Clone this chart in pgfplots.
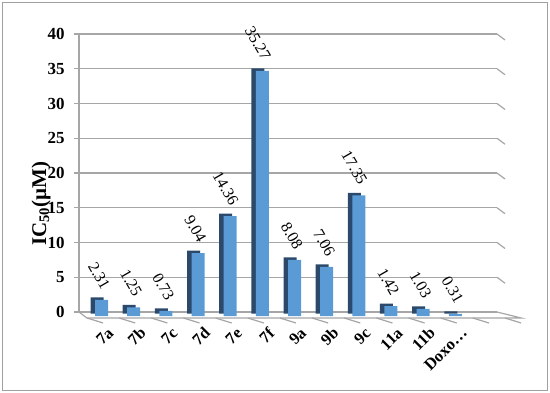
\documentclass[border=0pt]{standalone}
\usepackage{pgfplots}
\usepackage{pgfplotstable}
\pgfplotsset{compat=1.18}
\usepackage{fontspec}
\setmainfont{Liberation Serif}
\definecolor{barfront}{HTML}{5B9BD5}
\definecolor{barside}{HTML}{2B4A6B}
\definecolor{gridc}{HTML}{A6A6A6}
\definecolor{framec}{HTML}{A0A0A0}

\pgfplotstableread{
x v
0 2.31
1 1.25
2 0.73
3 9.04
4 14.36
5 35.27
6 8.08
7 7.06
8 17.35
9 1.42
10 1.03
11 0.31
}\datatab

\begin{document}
\begin{tikzpicture}
\begin{axis}[
  scale only axis, width=418bp, height=278bp,
  xmin=-0.5, xmax=12.5, ymin=0, ymax=40,
  clip=false,
  axis y line*=left, axis x line*=bottom,
  axis line style={draw=gridc, line width=1.2bp, -},
  ytick={0,5,...,40},
  xtick={0,...,11},
  xticklabels={7a,7b,7c,7d,7e,7f,9a,9b,9c,11a,11b,Doxo…},
  xtick style={draw=none},
  ytick style={draw=gridc, line width=1.2bp},
  tick align=outside, major tick length=5bp,
  ymajorgrids, grid style={gridc, line width=1.2bp},
  /pgf/number format/assume math mode=true,
  yticklabel style={font=\bfseries\fontsize{17}{17}\selectfont, anchor=east, xshift=-6bp},
  xticklabel style={font=\bfseries\fontsize{16.5}{16.5}\selectfont, anchor=east, xshift=18bp, yshift=-11bp, rotate=45},
  every axis y label/.style={at={(rel axis cs:0,0.39)}, xshift=-38bp, rotate=90, anchor=center},
  ylabel={\fontsize{21}{21}\selectfont\bfseries IC\textsubscript{50}(µM)},
]
\coordinate (O) at (rel axis cs:0,0);
\pgfplotsinvokeforeach{5,10,15,20,25,30,35,40}{
  \draw[gridc, line width=1.2bp] (axis cs:12.5,#1) -- ++(8bp,-6bp);
}
\draw[gridc, line width=1.2bp] (axis cs:-0.5,0) -- ++(8bp,-6bp) -- ++(418bp,0) -- (axis cs:12.5,0);
\pgfplotsinvokeforeach{-0.5,0.5,1.5,2.5,3.5,4.5,5.5,6.5,7.5,8.5,9.5,10.5,11.5,12.5}{
  \draw[gridc, line width=1.2bp] (axis cs:#1,0) ++(8bp,-6bp) -- ++(0,-5bp);
}
\addplot[ybar, bar width=13bp, bar shift=2bp, fill=barside, draw=none, yshift=-1.5bp]
  table[x=x, y=v] {\datatab};
\addplot[ybar, bar width=13bp, bar shift=6.5bp, fill=barfront, draw=none, yshift=-4bp,
  nodes near coords={\pgfmathprintnumber[fixed,fixed zerofill,precision=2]{\pgfplotspointmeta}},
  nodes near coords style={font=\fontsize{16}{16}\selectfont, text=black, anchor=east, xshift=11bp, yshift=12bp, rotate=-60, inner sep=0pt}]
  table[x=x, y=v] {\datatab};
\end{axis}
\pgfresetboundingbox
\path[use as bounding box] ([shift={(-79bp,-81bp)}]O) rectangle ([shift={(471bp,312bp)}]O);
\draw[framec, line width=1bp] ([shift={(-76bp,-78bp)}]O) rectangle ([shift={(468bp,309bp)}]O);
\end{tikzpicture}
\end{document}
